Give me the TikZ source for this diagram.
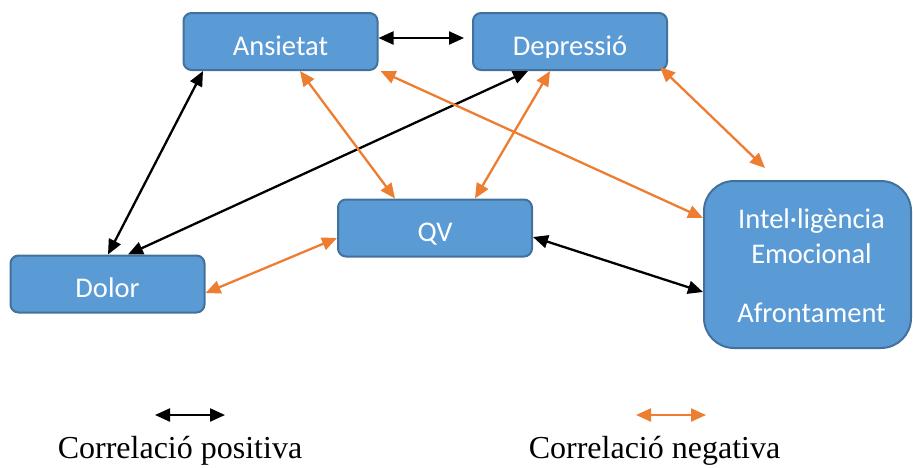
\documentclass[tikz,border=0pt]{standalone}
\usepackage{fontspec}
\setmainfont{Liberation Serif}
\newfontfamily\boxfont{Carlito}
\usetikzlibrary{arrows.meta}
\definecolor{boxfill}{HTML}{5B9BD5}
\definecolor{boxline}{HTML}{41719C}
\definecolor{negcol}{HTML}{ED7D31}
\begin{document}
\begin{tikzpicture}[x=1pt,y=-1pt,
  box/.style={draw=boxline, line width=2pt, fill=boxfill, rounded corners=8pt,
    minimum width=194pt, minimum height=57pt, inner sep=0pt},
  lbl/.style={text=white, font=\boxfont\fontsize{28.5}{34}\selectfont, anchor=base, inner sep=0pt},
  poscon/.style={draw=black, line width=2.3pt,
    {Triangle[length=15pt,width=13pt]}-{Triangle[length=15pt,width=13pt]}},
  negcon/.style={draw=negcol, line width=2.3pt,
    {Triangle[length=15pt,width=13pt]}-{Triangle[length=15pt,width=13pt]}},
  legtext/.style={font=\fontsize{32}{38}\selectfont, anchor=base, inner sep=0pt}]
\useasboundingbox (0,0) rectangle (913,467);

% boxes
\node[box] (ans) at (280.5,41.5) {};
\node[box] (dep) at (570,41.5) {};
\node[box] (qv) at (435,228) {};
\node[box] (dol) at (107.5,284) {};
\node[box, minimum width=207pt, minimum height=167pt, rounded corners=30pt] (ie) at (807.5,264.5) {};

% labels
\node[lbl] (ansT) at ([yshift=-13.5pt]ans.center) {Ansietat};
\begin{scope}
  \clip ([yshift=14pt]dep.south west) rectangle (dep.north east);
  \node[lbl] (depT) at ([yshift=-13.5pt]dep.center) {Depressió};
\end{scope}
\node[lbl] (qvT) at ([yshift=-13.5pt]qv.center) {QV};
\node[lbl] (dolT) at ([yshift=-13.5pt]dol.center) {Dolor};
\node[lbl] (ieT1) at ([xshift=4pt,yshift=36.5pt]ie.center) {Intel·ligència};
\node[lbl] (ieT2) at ([xshift=4pt,yshift=1.5pt]ie.center) {Emocional};
\node[lbl] (ieT3) at ([xshift=4pt,yshift=-57.5pt]ie.center) {Afrontament};

% positive correlations
\draw[poscon] ([yshift=3.5pt]ans.east) -- ([xshift=-8pt,yshift=3.5pt]dep.west);
\draw[poscon] ([xshift=-77.5pt]ans.south) -- ([xshift=0.5pt]dol.north);
\draw[poscon] ([xshift=-42pt]dep.south) -- ([xshift=20.5pt]dol.north);
\draw[poscon] ([yshift=-9pt]qv.east) -- ([yshift=-27.5pt]ie.west);

% negative correlations
\draw[negcon] ([xshift=19.5pt]ans.south) -- ([xshift=-40pt]qv.north);
\draw[negcon] ([xshift=-20pt]dep.south) -- ([xshift=40pt]qv.north);
\draw[negcon] ([xshift=2pt]ans.south east) -- ([yshift=46.5pt]ie.west);
\draw[negcon] ([xshift=-8pt,yshift=4pt]dep.south east) -- ([xshift=-42.5pt,yshift=12pt]ie.north);
\draw[negcon] ([yshift=-10pt]qv.west) -- ([yshift=-9pt]dol.east);

% legend
\coordinate (pa) at (155,415);
\coordinate (pb) at (225,415);
\coordinate (na) at (636,415);
\coordinate (nb) at (706,415);
\draw[poscon] (pa) -- (pb);
\draw[negcon] (na) -- (nb);
\node[legtext] (posT) at (180,458) {Correlació positiva};
\node[legtext] (negT) at (654.5,458) {Correlació negativa};
\end{tikzpicture}
\end{document}
